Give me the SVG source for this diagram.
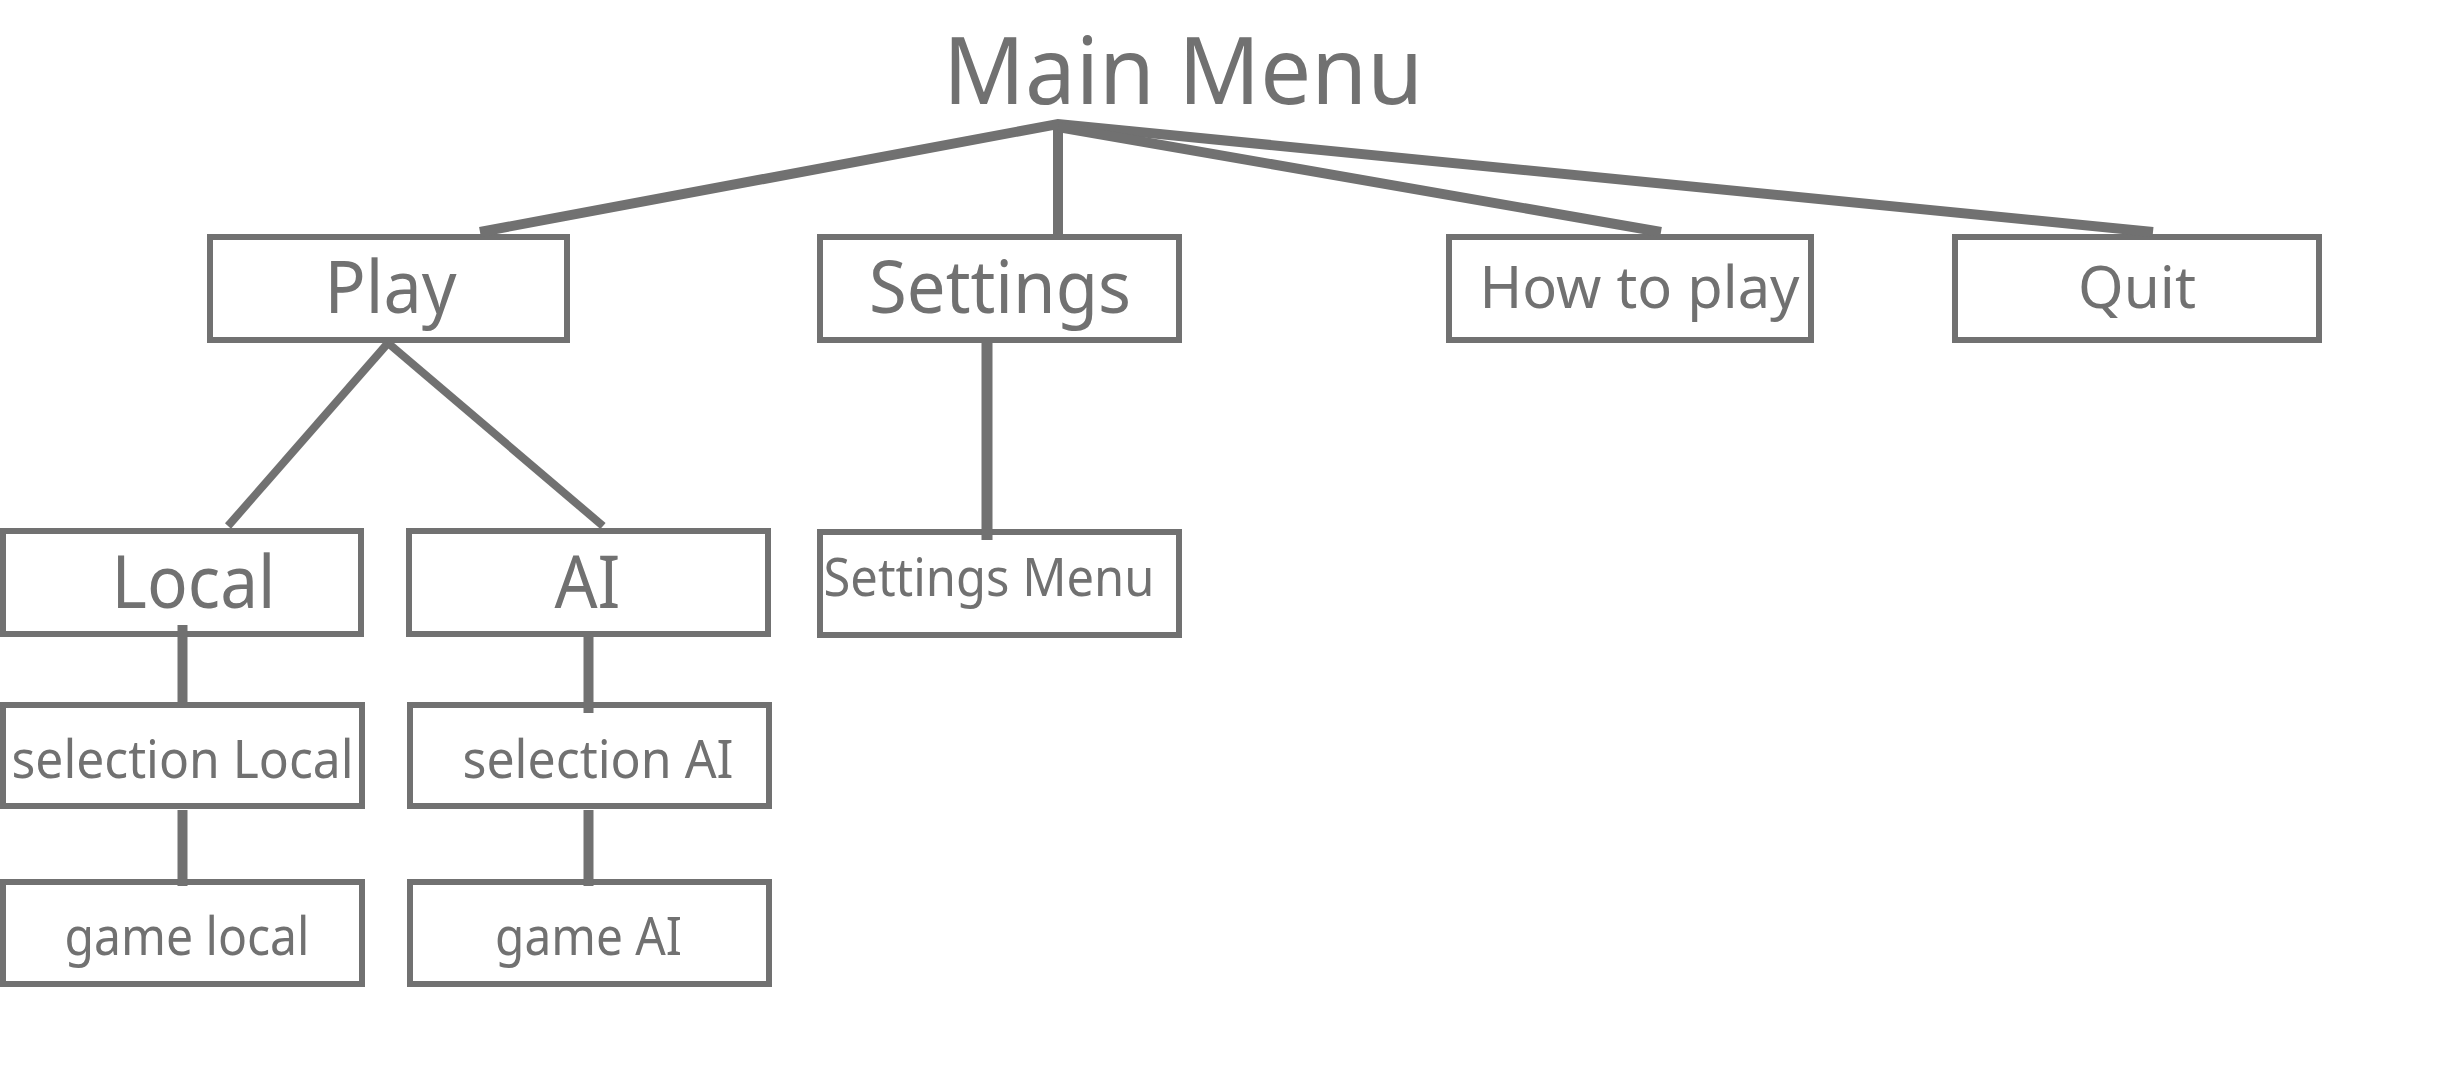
<svg xmlns="http://www.w3.org/2000/svg" width="2464" height="1080" viewBox="0 0 2464 1080">
<style>
.box{fill:#ffffff;stroke:#717171;stroke-width:6}
.t{font-family:"Segoe UI","Noto Sans","Open Sans",sans-serif;fill:#717171;text-anchor:middle}
.c{stroke:#717171;fill:none;stroke-linecap:butt;stroke-linejoin:miter}
</style>
<rect x="0" y="0" width="2464" height="1080" fill="#ffffff"/>
<g id="main-menu">
<text class="t" x="1183" y="104" font-size="94" textLength="480" lengthAdjust="spacingAndGlyphs">Main Menu</text>
</g>
<g id="play">
<rect class="box" x="210" y="237" width="357" height="103"/>
<text class="t" x="390.5" y="313" font-size="73" textLength="132" lengthAdjust="spacingAndGlyphs">Play</text>
</g>
<g id="settings">
<rect class="box" x="820" y="237" width="359" height="103"/>
<text class="t" x="1000" y="313" font-size="73" textLength="262" lengthAdjust="spacingAndGlyphs">Settings</text>
</g>
<g id="how-to-play">
<rect class="box" x="1449" y="237" width="362" height="103"/>
<text class="t" x="1639.5" y="308" font-size="58" textLength="320" lengthAdjust="spacingAndGlyphs">How to play</text>
</g>
<g id="quit">
<rect class="box" x="1955" y="237" width="364" height="103"/>
<text class="t" x="2137" y="308" font-size="58" textLength="118" lengthAdjust="spacingAndGlyphs">Quit</text>
</g>
<g id="local">
<rect class="box" x="3" y="531" width="358" height="103"/>
<text class="t" x="193.5" y="608" font-size="73" textLength="164" lengthAdjust="spacingAndGlyphs">Local</text>
</g>
<g id="ai">
<rect class="box" x="409" y="531" width="359" height="103"/>
<text class="t" x="587.5" y="608" font-size="73" textLength="66" lengthAdjust="spacingAndGlyphs">AI</text>
</g>
<g id="settings-menu">
<rect class="box" x="820" y="532" width="359" height="103"/>
<text class="t" x="989" y="596" font-size="53" textLength="331" lengthAdjust="spacingAndGlyphs">Settings Menu</text>
</g>
<g id="selection-local">
<rect class="box" x="3" y="705" width="359" height="101"/>
<text class="t" x="182.5" y="778" font-size="53" textLength="342" lengthAdjust="spacingAndGlyphs">selection Local</text>
</g>
<g id="selection-ai">
<rect class="box" x="410" y="705" width="359" height="101"/>
<text class="t" x="598" y="778" font-size="53" textLength="271" lengthAdjust="spacingAndGlyphs">selection AI</text>
</g>
<g id="game-local">
<rect class="box" x="3" y="882" width="359" height="102"/>
<text class="t" x="187" y="955" font-size="53" textLength="245" lengthAdjust="spacingAndGlyphs">game local</text>
</g>
<g id="game-ai">
<rect class="box" x="410" y="882" width="359" height="102"/>
<text class="t" x="588.5" y="955" font-size="53" textLength="187" lengthAdjust="spacingAndGlyphs">game AI</text>
</g>
<g id="connectors">
<path class="c" d="M480,232 L1058,124 L2153,232" stroke-width="10"/>
<line class="c" x1="1058" y1="123" x2="1058" y2="237" stroke-width="10"/>
<line class="c" x1="1058" y1="127" x2="1661" y2="232" stroke-width="10"/>
<line class="c" x1="388" y1="343" x2="228" y2="526" stroke-width="8"/>
<line class="c" x1="388" y1="343" x2="603" y2="526" stroke-width="8"/>
<line class="c" x1="987" y1="343" x2="987" y2="540" stroke-width="11"/>
<line class="c" x1="182.5" y1="625" x2="182.5" y2="702" stroke-width="10"/>
<line class="c" x1="588.5" y1="637" x2="588.5" y2="713" stroke-width="10"/>
<line class="c" x1="182.5" y1="810" x2="182.5" y2="886" stroke-width="10"/>
<line class="c" x1="588.5" y1="810" x2="588.5" y2="886" stroke-width="10"/>
</g>
</svg>
